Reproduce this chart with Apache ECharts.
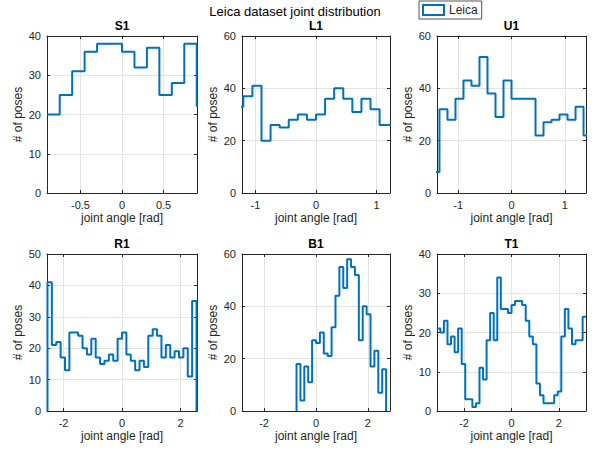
<!DOCTYPE html>
<html><head><meta charset="utf-8">
<script src="https://cdn.jsdelivr.net/npm/echarts@6/dist/echarts.min.js"></script>
<style>html,body{margin:0;padding:0;background:#fff}#c{width:594px;height:452px}</style>
</head><body><div id="c"></div>
<script>
// ---- data ----
const jointNames = ['S1', 'L1', 'U1', 'R1', 'B1', 'T1'];
const binWidth = 0.15;
const firstEdge = [-0.9, -1.35, -1.5, -2.55, -0.75, -3.15];
const countsS1 = [20, 25, 31, 36, 38, 38, 36, 32, 37, 25, 28, 38];
const countsL1 = [33, 37, 41, 20, 26, 25, 28, 30, 28, 30, 36, 40, 36, 31, 36, 32, 26, 26];
const countsU1 = [8, 32, 28, 36, 43, 41, 52, 38, 29, 43, 36, 36, 36, 22, 27, 28, 30, 28, 33, 22];
const countsR1 = [41, 21, 22, 17, 13, 25, 25, 24, 20, 18, 23, 17, 15, 16, 18, 16, 23,
                  25, 18, 16, 13, 16, 14, 24, 26, 24, 17, 21, 17, 19, 17, 20, 11, 35];
const countsB1 = [18, 4, 17, 11, 27, 26, 30, 22, 21, 32, 44, 55, 47, 58, 55, 52, 27, 40, 37, 17, 23, 7, 16];
const countsT1 = [21, 20, 23, 17, 19, 15, 21, 12, 3, 3, 1, 2, 11, 8, 18, 25, 18, 34, 26, 26, 25,
                  27, 28, 28, 27, 23, 19, 17, 7, 4, 2, 2, 2, 4, 5, 19, 26, 21, 17, 18, 18, 24];
const startLevel = [null, null, null, 0, 0, null];
const endLevel = [22, null, null, 0, 0, null];
const xLimits = [[-0.903, 0.903], [-1.2217, 1.2217], [-1.396, 1.396], [-2.566, 2.566], [-2.85, 2.85], [-3.1416, 3.1416]];
const xTickValues = [[-0.5, 0, 0.5], [-1, 0, 1], [-1, 0, 1], [-2, 0, 2], [-2, 0, 2], [-2, 0, 2]];
const yMax = [40, 60, 60, 50, 60, 40];
const yStep = [10, 20, 20, 10, 20, 10];
const counts = [countsS1, countsL1, countsU1, countsR1, countsB1, countsT1];

// ---- styling / layout ----
const FONT = "'Liberation Sans', Arial, Helvetica, sans-serif";
const AX = '#262626';
const GRIDC = '#e3e3e3';
const BLUE = '#0072BD';
const colLeft = [47, 242, 437], colWidth = [150, 148, 149];
const rowTop = [36, 254], rowHeight = 157;

function stairPoints(i) {
  const pts = [];
  const e0 = firstEdge[i], c = counts[i];
  if (startLevel[i] !== null) pts.push([e0, startLevel[i]]);
  c.forEach((v, k) => {
    pts.push([+(e0 + k * binWidth).toFixed(4), v]);
    pts.push([+(e0 + (k + 1) * binWidth).toFixed(4), v]);
  });
  if (endLevel[i] !== null) pts.push([+(e0 + c.length * binWidth).toFixed(4), endLevel[i]]);
  return pts;
}

const grids = [], xAxes = [], yAxes = [], series = [], graphics = [];
jointNames.forEach((nm, i) => {
  const col = i % 3, row = Math.floor(i / 3);
  grids.push({ left: colLeft[col], top: rowTop[row], width: colWidth[col], height: rowHeight, containLabel: false });
  const common = { gridIndex: i, type: 'value', min: xLimits[i][0], max: xLimits[i][1] };
  xAxes.push(Object.assign({}, common, {
    position: 'bottom',
    axisLine: { show: true, onZero: false, lineStyle: { color: AX, width: 1 } },
    axisTick: { show: true, inside: true, length: 3, customValues: xTickValues[i], lineStyle: { color: AX } },
    axisLabel: { show: true, customValues: xTickValues[i], color: AX, fontSize: 11, fontFamily: FONT, margin: 6 },
    splitLine: { show: true, lineStyle: { color: GRIDC, width: 1 } },
    name: 'joint angle [rad]', nameLocation: 'middle', nameGap: 19, nameMoveOverlap: false,
    nameTextStyle: { color: AX, fontSize: 12, fontFamily: FONT }
  }));
  xAxes.push(Object.assign({}, common, {
    position: 'top',
    axisLine: { show: true, onZero: false, lineStyle: { color: AX, width: 1 } },
    axisTick: { show: true, inside: true, length: 3, customValues: xTickValues[i], lineStyle: { color: AX } },
    axisLabel: { show: false, customValues: xTickValues[i] },
    splitLine: { show: false }
  }));
  const ycommon = { gridIndex: i, type: 'value', min: 0, max: yMax[i], interval: yStep[i] };
  yAxes.push(Object.assign({}, ycommon, {
    position: 'left',
    axisLine: { show: true, onZero: false, lineStyle: { color: AX, width: 1 } },
    axisTick: { show: true, inside: true, length: 3, lineStyle: { color: AX } },
    axisLabel: { show: true, color: AX, fontSize: 11, fontFamily: FONT, margin: 6 },
    splitLine: { show: true, lineStyle: { color: GRIDC, width: 1 } },
    name: '# of poses', nameLocation: 'middle', nameGap: 23, nameMoveOverlap: false,
    nameTextStyle: { color: AX, fontSize: 12, fontFamily: FONT }
  }));
  yAxes.push(Object.assign({}, ycommon, {
    position: 'right',
    axisLine: { show: true, onZero: false, lineStyle: { color: AX, width: 1 } },
    axisTick: { show: true, inside: true, length: 3, lineStyle: { color: AX } },
    axisLabel: { show: false },
    splitLine: { show: false }
  }));
  series.push({
    name: 'Leica', type: 'line', xAxisIndex: 2 * i, yAxisIndex: 2 * i,
    data: stairPoints(i), showSymbol: false, symbol: 'none', clip: true,
    lineStyle: { color: BLUE, width: 2 }, itemStyle: { color: BLUE },
    emphasis: { disabled: true }, z: 5
  });
  graphics.push({
    type: 'text', x: colLeft[col] + colWidth[col] / 2, y: rowTop[row] - 10,
    style: { text: nm, align: 'center', verticalAlign: 'middle', fontSize: 12, fontWeight: 'bold', fontFamily: FONT, fill: '#000' }
  });
});
graphics.push({
  type: 'text', x: 295, y: 11,
  style: { text: 'Leica dataset joint distribution', align: 'center', verticalAlign: 'middle', fontSize: 13, fontFamily: FONT, fill: '#000' }
});

const chart = echarts.init(document.getElementById('c'), null, { renderer: 'svg' });
chart.setOption({
  animation: false,
  backgroundColor: '#fff',
  grid: grids, xAxis: xAxes, yAxis: yAxes, series: series, graphic: graphics,
  legend: {
    left: 419, top: 1, padding: [3, 4, 3, 3], itemWidth: 21, itemHeight: 10, itemGap: 0,
    borderColor: '#555', borderWidth: 1, backgroundColor: '#fff',
    textStyle: { fontSize: 12, color: AX, fontFamily: FONT },
    data: [{ name: 'Leica', icon: 'rect', itemStyle: { color: '#fff', borderColor: BLUE, borderWidth: 2 } }]
  }
});
</script></body></html>
